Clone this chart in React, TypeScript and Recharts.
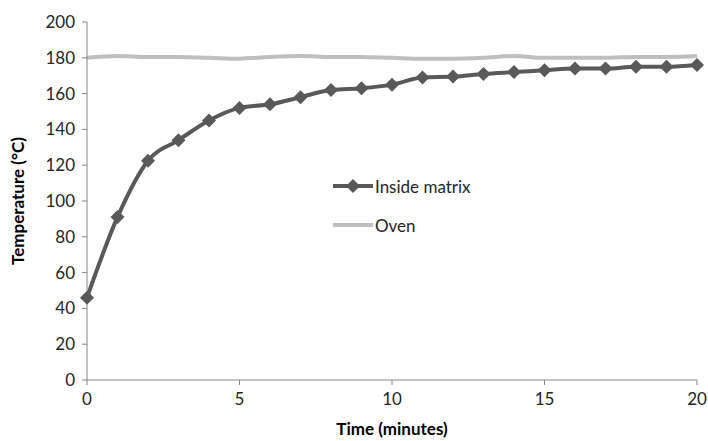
import { LineChart, Line, XAxis, YAxis } from "recharts";

const minutes = [0, 1, 2, 3, 4, 5, 6, 7, 8, 9, 10, 11, 12, 13, 14, 15, 16, 17, 18, 19, 20];
const insideMatrix = [46, 91, 122.5, 134, 145, 152, 154, 158, 162, 163, 165, 169, 169.5, 171, 172, 173, 174, 174, 175, 175, 176];
const oven = [180, 181, 180.5, 180.5, 180, 179.5, 180.5, 181, 180.5, 180.5, 180, 179.5, 179.5, 180, 181, 180, 180, 180, 180.5, 180.5, 181];
const xTicks = [0, 5, 10, 15, 20];
const yTicks = [0, 20, 40, 60, 80, 100, 120, 140, 160, 180, 200];

const data = minutes.map((t, i) => ({ t, inside: insideMatrix[i], oven: oven[i] }));

const FONT = "Lato, 'Open Sans', sans-serif";
const DARK = "#595959";
const LIGHT = "#bfbfbf";
const AXIS = "#868686";

const Diamond = (props: any) => {
  const { cx, cy } = props;
  if (cx == null || cy == null) return null;
  const r = 7;
  return (
    <polygon
      points={`${cx},${cy - r} ${cx + r},${cy} ${cx},${cy + r} ${cx - r},${cy}`}
      fill={DARK}
      stroke="none"
    />
  );
};

export default function App() {
  return (
    <div style={{ position: "absolute", left: 0, top: 0, width: 708, height: 441, background: "#fff" }}>
      <LineChart
        width={708}
        height={441}
        data={data}
        margin={{ top: 22, right: 11, bottom: 0, left: 0 }}
      >
        <XAxis
          dataKey="t"
          type="number"
          domain={[0, 20]}
          ticks={xTicks}
          stroke={AXIS}
          tickSize={5}
          tickMargin={8}
          height={61}
          tick={{ fill: "#262626", fontSize: 17, fontFamily: FONT }}
          label={{
            value: "Time (minutes)",
            position: "insideBottom",
            offset: 6,
            fill: "#000",
            fontSize: 17,
            fontWeight: "bold",
            fontFamily: FONT,
          }}
        />
        <YAxis
          type="number"
          domain={[0, 200]}
          ticks={yTicks}
          stroke={AXIS}
          tickSize={5}
          tickMargin={7}
          width={87}
          interval={0}
          tick={{ fill: "#262626", fontSize: 17, fontFamily: FONT }}
          label={{
            value: "Temperature (°C)",
            angle: -90,
            position: "insideLeft",
            offset: 18,
            style: { textAnchor: "middle" },
            fill: "#000",
            fontSize: 17,
            fontWeight: "bold",
            fontFamily: FONT,
          }}
        />
        <Line
          type="monotone"
          dataKey="oven"
          name="Oven"
          stroke={LIGHT}
          strokeWidth={4}
          dot={false}
          isAnimationActive={false}
        />
        <Line
          type="monotone"
          dataKey="inside"
          name="Inside matrix"
          stroke={DARK}
          strokeWidth={4}
          dot={<Diamond />}
          activeDot={false}
          isAnimationActive={false}
        />
      </LineChart>

      {/* legend sits inside the plot, like the Excel original */}
      <div style={{ position: "absolute", left: 333, top: 175, fontFamily: FONT, fontSize: 17, color: "#262626" }}>
        <div style={{ display: "flex", alignItems: "center", height: 22, marginBottom: 17 }}>
          <svg width={42} height={16}>
            <line x1={0} y1={8} x2={40} y2={8} stroke={DARK} strokeWidth={4} />
            <polygon points="20,1 27,8 20,15 13,8" fill={DARK} />
          </svg>
          <span style={{ marginLeft: 0 }}>Inside matrix</span>
        </div>
        <div style={{ display: "flex", alignItems: "center", height: 22 }}>
          <svg width={42} height={16}>
            <line x1={0} y1={8} x2={40} y2={8} stroke={LIGHT} strokeWidth={4} />
          </svg>
          <span style={{ marginLeft: 0 }}>Oven</span>
        </div>
      </div>
    </div>
  );
}
